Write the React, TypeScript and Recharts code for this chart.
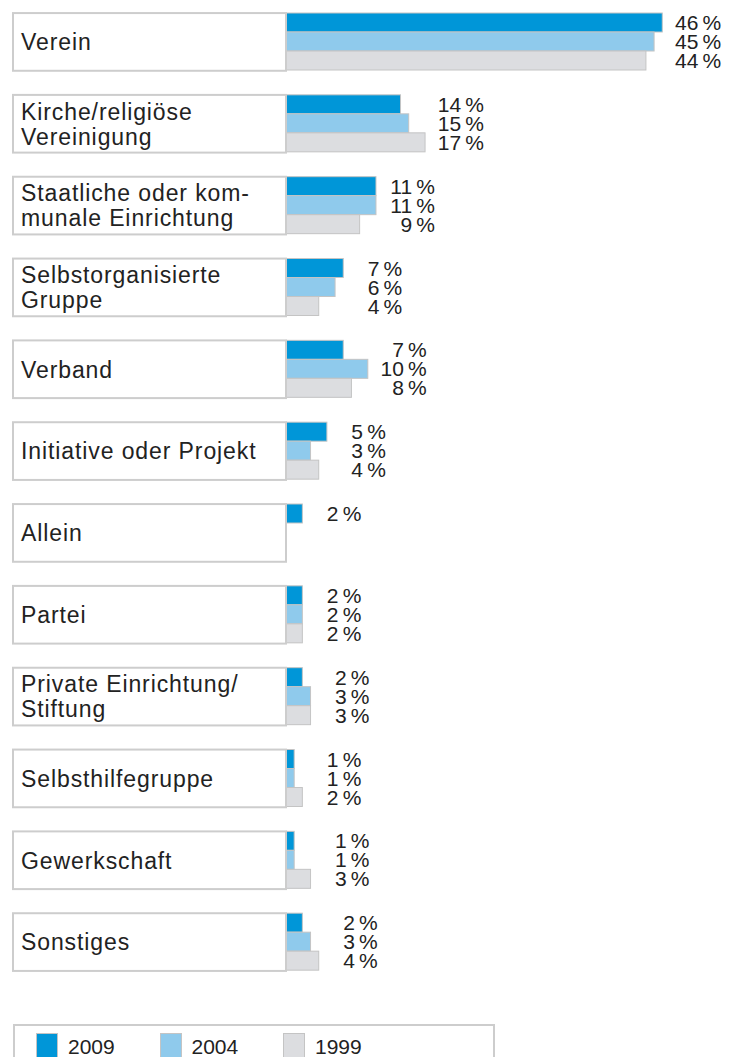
import { Bar, BarChart, XAxis, YAxis } from "recharts";

// categories (line breaks as in the original labels)
const categories = [
  "Verein",
  "Kirche/religiöse\nVereinigung",
  "Staatliche oder kom-\nmunale Einrichtung",
  "Selbstorganisierte\nGruppe",
  "Verband",
  "Initiative oder Projekt",
  "Allein",
  "Partei",
  "Private Einrichtung/\nStiftung",
  "Selbsthilfegruppe",
  "Gewerkschaft",
  "Sonstiges",
];

const values2009 = [46, 14, 11, 7, 7, 5, 2, 2, 2, 1, 1, 2];
const values2004 = [45, 15, 11, 6, 10, 3, null, 2, 3, 1, 1, 3];
const values1999 = [44, 17, 9, 4, 8, 4, null, 2, 3, 2, 3, 4];

const series = [
  { key: "y2009", name: "2009", color: "#0096d8" },
  { key: "y2004", name: "2004", color: "#8fcaec" },
  { key: "y1999", name: "1999", color: "#dcdde0" },
];

const data = categories.map((name, i) => ({
  name,
  y2009: values2009[i],
  y2004: values2004[i],
  y1999: values1999[i],
}));

const FONT = '"Liberation Sans", Arial, Helvetica, sans-serif';
const Y_AXIS_WIDTH = 286;
const BORDER = "#cdcdcd";

const CategoryTick = (props: any) => {
  const { y, payload } = props;
  const lines: string[] = String(payload.value).split("\n");
  const boxH = 57.7;
  const lineH = 25;
  const first = y + 8.3 - ((lines.length - 1) * lineH) / 2;
  return (
    <g>
      <rect
        x={13}
        y={y - boxH / 2}
        width={Y_AXIS_WIDTH - 13}
        height={boxH}
        fill="#fff"
        stroke={BORDER}
        strokeWidth={2}
      />
      <text
        x={21}
        y={first}
        fill="#222"
        fontSize={23}
        fontFamily={FONT}
        letterSpacing={0.9}
      >
        {lines.map((l, i) => (
          <tspan key={i} x={21} y={first + i * lineH}>
            {l}
          </tspan>
        ))}
      </text>
    </g>
  );
};

const BarWithValue = (props: any) => {
  const { x, y, width, height, payload, seriesKey, fill } = props;
  const v = payload ? payload[seriesKey] : null;
  if (v == null || !width) return <g />;
  const rowMax = Math.max(...series.map((s) => payload[s.key] ?? 0));
  const end = x + (width * rowMax) / v;
  return (
    <g>
      <rect
        x={x}
        y={y}
        width={width}
        height={height}
        fill={fill}
        stroke="#c4c4c4"
        strokeWidth={1}
      />
      <text
        x={end + 59}
        y={y + height / 2}
        textAnchor="end"
        dominantBaseline="central"
        fill="#222"
        fontSize={21}
        fontFamily={FONT}
      >
        {v}
        {"\u2009%"}
      </text>
    </g>
  );
};

export default function App() {
  return (
    <div
      style={{
        position: "absolute",
        left: 0,
        top: 0,
        width: 732,
        height: 1057,
        overflow: "hidden",
        background: "#fff",
        fontFamily: FONT,
      }}
    >
      <BarChart
        width={732}
        height={984}
        data={data}
        layout="vertical"
        margin={{ top: 1, right: 37, bottom: 1, left: 0 }}
        barCategoryGap={12}
        barGap={0}
      >
        <XAxis type="number" domain={[0, 50]} hide />
        <YAxis
          type="category"
          dataKey="name"
          width={Y_AXIS_WIDTH}
          interval={0}
          tickLine={false}
          axisLine={false}
          tick={<CategoryTick />}
        />
        {series.map((s) => (
          <Bar
            key={s.key}
            dataKey={s.key}
            name={s.name}
            fill={s.color}
            isAnimationActive={false}
            shape={(p: any) => <BarWithValue {...p} seriesKey={s.key} fill={s.color} />}
          />
        ))}
      </BarChart>
      <div
        style={{
          position: "absolute",
          left: 13,
          top: 1024,
          width: 478,
          height: 60,
          border: `2px solid ${BORDER}`,
        }}
      >
        {series.map((s, i) => (
          <div
            key={s.key}
            style={{
              position: "absolute",
              left: 21 + i * 123.5,
              top: 7,
              display: "flex",
              alignItems: "flex-start",
            }}
          >
            <div
              style={{
                width: 22,
                height: 30,
                background: s.color,
                border: "1px solid #c4c4c4",
                boxSizing: "border-box",
              }}
            />
            <span
              style={{
                marginLeft: 10,
                fontSize: 21,
                lineHeight: "16px",
                marginTop: 6,
                color: "#222",
              }}
            >
              {s.name}
            </span>
          </div>
        ))}
      </div>
    </div>
  );
}
